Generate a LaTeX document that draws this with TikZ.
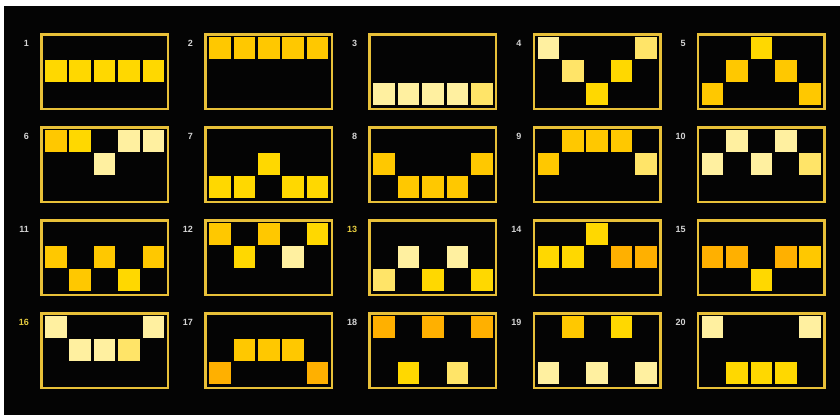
\documentclass[tikz,border=0pt]{standalone}
\usepackage{fontspec}
\setmainfont{Liberation Sans}
\definecolor{frameclr}{HTML}{E8C038}
\definecolor{cY}{HTML}{FFD800}
\definecolor{cG}{HTML}{FFC800}
\definecolor{cO}{HTML}{FFB000}
\definecolor{cP}{HTML}{FFF0A0}
\definecolor{cL}{HTML}{FFE468}
\definecolor{lblgray}{HTML}{D4D4D4}
\definecolor{lblyel}{HTML}{E6CC40}
\definecolor{bgblack}{HTML}{040404}
\tikzset{
  panelframe/.style={draw=frameclr, line width=2.5pt},
  lbl/.style={font=\bfseries\fontsize{9}{9}\selectfont, inner sep=0pt, anchor=east}
}
\newcommand{\slotpanel}[5]{%
  \pgfmathsetmacro{\pL}{40+164.2*#1}%
  \pgfmathsetmacro{\pT}{33+93*#2}%
  \draw[panelframe] (\pL+1.25,\pT+1.25) rectangle (\pL+127.75,\pT+75.75);
  \node[lbl,text=#4] (n#3) at (\pL-11,\pT+10) {#3};
  \foreach \rr/\cc [count=\i from 0] in {#5} {
    \fill[\cc] (\pL+5+24.4*\i,\pT+4.2+23*\rr) rectangle ++(21.5,22);
  }
}
\begin{document}
\begin{tikzpicture}[x=1pt,y=-1pt]
\useasboundingbox (0,0) rectangle (840,415);
\fill[white] (0,0) rectangle (840,415);
\fill[bgblack] (4,6) rectangle (840,415);
% row 1
\slotpanel{0}{0}{1}{lblgray}{1/cY,1/cY,1/cY,1/cY,1/cY}
\slotpanel{1}{0}{2}{lblgray}{0/cG,0/cG,0/cG,0/cG,0/cG}
\slotpanel{2}{0}{3}{lblgray}{2/cP,2/cP,2/cP,2/cP,2/cL}
\slotpanel{3}{0}{4}{lblgray}{0/cP,1/cL,2/cY,1/cY,0/cL}
\slotpanel{4}{0}{5}{lblgray}{2/cG,1/cG,0/cY,1/cG,2/cG}
% row 2
\slotpanel{0}{1}{6}{lblgray}{0/cG,0/cY,1/cP,0/cP,0/cP}
\slotpanel{1}{1}{7}{lblgray}{2/cY,2/cY,1/cY,2/cY,2/cY}
\slotpanel{2}{1}{8}{lblgray}{1/cG,2/cG,2/cG,2/cG,1/cG}
\slotpanel{3}{1}{9}{lblgray}{1/cG,0/cG,0/cG,0/cG,1/cL}
\slotpanel{4}{1}{10}{lblgray}{1/cP,0/cP,1/cP,0/cP,1/cL}
% row 3
\slotpanel{0}{2}{11}{lblgray}{1/cG,2/cG,1/cG,2/cY,1/cG}
\slotpanel{1}{2}{12}{lblgray}{0/cG,1/cY,0/cG,1/cP,0/cY}
\slotpanel{2}{2}{13}{lblyel}{2/cL,1/cP,2/cY,1/cP,2/cY}
\slotpanel{3}{2}{14}{lblgray}{1/cY,1/cY,0/cY,1/cO,1/cO}
\slotpanel{4}{2}{15}{lblgray}{1/cO,1/cO,2/cY,1/cO,1/cG}
% row 4
\slotpanel{0}{3}{16}{lblyel}{0/cP,1/cP,1/cP,1/cL,0/cP}
\slotpanel{1}{3}{17}{lblgray}{2/cO,1/cG,1/cG,1/cG,2/cO}
\slotpanel{2}{3}{18}{lblgray}{0/cO,2/cY,0/cO,2/cL,0/cO}
\slotpanel{3}{3}{19}{lblgray}{2/cP,0/cG,2/cP,0/cY,2/cP}
\slotpanel{4}{3}{20}{lblgray}{0/cP,2/cY,2/cY,2/cY,0/cP}
\end{tikzpicture}
\end{document}
